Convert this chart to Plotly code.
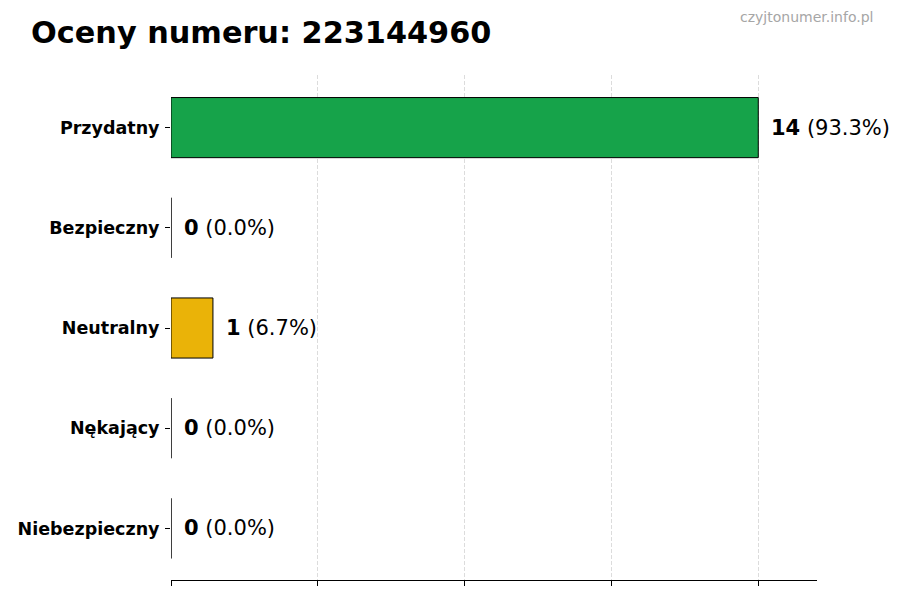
import plotly.graph_objects as go

categories = ["Przydatny", "Bezpieczny", "Neutralny", "Nękający", "Niebezpieczny"]
counts = [14, 0, 1, 0, 0]
colors = ["#16a34a", "#22c55e", "#eab308", "#f97316", "#dc2626"]
number = "223144960"

total = sum(counts)
percents = [c / total * 100 for c in counts]
max_count = max(counts)

fig = go.Figure(go.Bar(
    x=counts,
    y=categories,
    orientation="h",
    width=0.6,
    marker=dict(color=colors, line=dict(color="black", width=1)),
    hoverinfo="skip",
))

for cat, c, p in zip(categories, counts, percents):
    fig.add_annotation(
        x=c, y=cat, xref="x", yref="y",
        text=f"<b>{c}</b> ({p:.1f}%)",
        showarrow=False, xanchor="left", yanchor="middle",
        xshift=11,
        font=dict(family="DejaVu Sans", size=21, color="black"),
    )

fig.add_annotation(
    x=1.0, y=1.0, xref="paper", yref="paper",
    text="czyjtonumer.info.pl", showarrow=False,
    xanchor="right", yanchor="top", yshift=68, xshift=58,
    font=dict(family="DejaVu Sans", size=14, color="#a6a6a6"),
)

fig.update_layout(
    width=900, height=600,
    margin=dict(l=171, r=83, t=75, b=20),
    paper_bgcolor="white", plot_bgcolor="white",
    title=dict(
        text="<b>Oceny numeru: " + number + "</b>",
        x=0.0345, xanchor="left", y=0.946, yanchor="middle",
        font=dict(family="DejaVu Sans", size=30.3, color="black"),
    ),
    showlegend=False,
)

fig.update_xaxes(
    range=[0, max_count * 1.1],
    tickvals=[max_count * i / 4 for i in range(5)],
    ticktext=["" for _ in range(5)],
    ticks="outside", ticklen=5, tickcolor="black",
    showline=True, linecolor="black", linewidth=1,
    showgrid=True, gridcolor="#dcdcdc", griddash="4px,2px", gridwidth=1,
    zeroline=False, fixedrange=True,
)
fig.update_yaxes(
    categoryorder="array", categoryarray=categories[::-1],
    range=[-0.515, 4.525],
    ticks="outside", ticklen=5, tickcolor="black",
    showline=False, showgrid=False, zeroline=False,
    tickfont=dict(family="DejaVu Sans", size=17.5, color="black"),
    ticklabelstandoff=2, fixedrange=True,
    tickvals=categories[::-1],
    ticktext=[f"<b>{c}</b>" for c in categories[::-1]],
)

fig.write_html("out.html", config={"displayModeBar": False},
               post_script="document.body.style.margin='0';")
